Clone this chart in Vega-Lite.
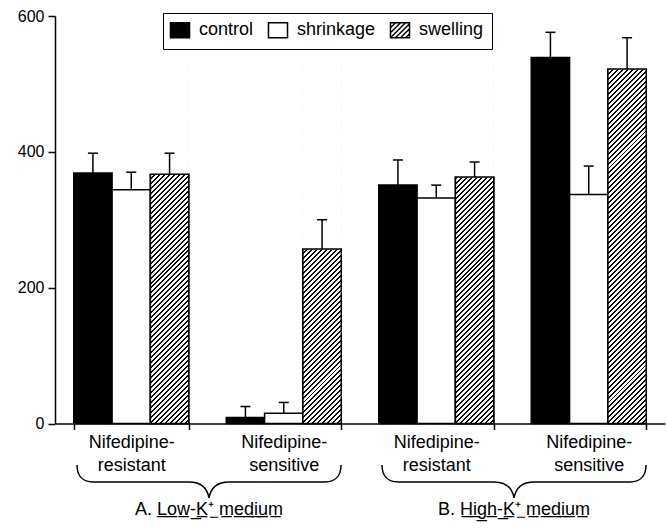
{
  "$schema": "https://vega.github.io/schema/vega-lite/v6.json",
  "width": 610,
  "height": 407.5,
  "autosize": {"type": "none"},
  "padding": {"left": 55, "top": 16, "right": 2, "bottom": 104.5},
  "config": {
    "font": "Liberation Sans",
    "view": {"stroke": null},
    "axis": {"grid": false, "gridOpacity": 0, "gridColor": "#fff", "gridWidth": 0},
    "axisY": {
      "domainColor": "#000",
      "domainWidth": 1.5,
      "tickColor": "#000",
      "tickWidth": 1.5,
      "tickSize": 7,
      "labelFontSize": 16,
      "labelColor": "#000",
      "labelPadding": 4
    }
  },
  "datasets": {
    "bars": [
      {"group": "A resistant", "condition": "control", "value": 369, "upper": 398},
      {"group": "A resistant", "condition": "shrinkage", "value": 344, "upper": 370},
      {"group": "A resistant", "condition": "swelling", "value": 367, "upper": 398},
      {"group": "A sensitive", "condition": "control", "value": 9, "upper": 25},
      {"group": "A sensitive", "condition": "shrinkage", "value": 15, "upper": 31},
      {"group": "A sensitive", "condition": "swelling", "value": 257, "upper": 300},
      {"group": "B resistant", "condition": "control", "value": 351, "upper": 388},
      {"group": "B resistant", "condition": "shrinkage", "value": 332, "upper": 351},
      {"group": "B resistant", "condition": "swelling", "value": 363, "upper": 385},
      {"group": "B sensitive", "condition": "control", "value": 539, "upper": 576},
      {"group": "B sensitive", "condition": "shrinkage", "value": 337, "upper": 379},
      {"group": "B sensitive", "condition": "swelling", "value": 522, "upper": 568}
    ],
    "media": [
      {"group": "A sensitive", "label": "A. L̲o̲w̲-̲K̲⁺̲ m̲e̲d̲i̲u̲m̲"},
      {"group": "B sensitive", "label": "B. H̲i̲g̲h̲-̲K̲⁺̲ m̲e̲d̲i̲u̲m̲"}
    ]
  },
  "encoding": {
    "x": {
      "field": "group",
      "type": "nominal",
      "scale": {"paddingInner": 0.246, "paddingOuter": 0.123},
      "axis": {
        "title": null,
        "grid": false,
        "gridOpacity": 0,
        "gridColor": "#fff",
        "domainColor": "#000",
        "domainWidth": 1.5,
        "tickColor": "#000",
        "tickWidth": 1.5,
        "tickSize": 6,
        "tickBand": "extent",
        "labelAngle": 0,
        "labelFontSize": 18,
        "labelColor": "#000",
        "labelPadding": 4,
        "labelLineHeight": 23,
        "labelExpr": "datum.label && indexof(datum.label, 'resistant') >= 0 ? ['Nifedipine-', 'resistant'] : (datum.label && indexof(datum.label, 'sensitive') >= 0 ? ['Nifedipine-', 'sensitive'] : '')"
      }
    }
  },
  "layer": [
    {
      "data": {"name": "bars"},
      "mark": {"type": "bar", "stroke": "#000", "strokeWidth": 1.5},
      "encoding": {
        "xOffset": {"field": "condition", "type": "nominal", "scale": {"paddingInner": 0, "paddingOuter": 0}},
        "y": {"field": "value", "type": "quantitative", "title": null, "scale": {"domain": [0, 600], "nice": false}, "axis": {"values": [0, 200, 400, 600]}},
        "fill": {"condition": {"test": "datum.condition === 'control'", "value": "#000"}, "value": "#fff"}
      }
    },
    {
      "data": {"name": "bars"},
      "transform": [{"filter": "datum.condition === 'swelling'"}],
      "mark": {
        "type": "bar",
        "strokeWidth": 0,
        "fill": {
          "gradient": "linear", "x1": 0, "y1": 0, "x2": 0.1165, "y2": 1.0941,
          "stops": [
            {"offset": 0, "color": "#000"}, {"offset": 0.005, "color": "#000"}, {"offset": 0.005, "color": "#fff"}, {"offset": 0.0125, "color": "#fff"},
            {"offset": 0.0125, "color": "#000"}, {"offset": 0.0175, "color": "#000"}, {"offset": 0.0175, "color": "#fff"}, {"offset": 0.025, "color": "#fff"},
            {"offset": 0.025, "color": "#000"}, {"offset": 0.03, "color": "#000"}, {"offset": 0.03, "color": "#fff"}, {"offset": 0.0375, "color": "#fff"},
            {"offset": 0.0375, "color": "#000"}, {"offset": 0.0425, "color": "#000"}, {"offset": 0.0425, "color": "#fff"}, {"offset": 0.05, "color": "#fff"},
            {"offset": 0.05, "color": "#000"}, {"offset": 0.055, "color": "#000"}, {"offset": 0.055, "color": "#fff"}, {"offset": 0.0625, "color": "#fff"},
            {"offset": 0.0625, "color": "#000"}, {"offset": 0.0675, "color": "#000"}, {"offset": 0.0675, "color": "#fff"}, {"offset": 0.075, "color": "#fff"},
            {"offset": 0.075, "color": "#000"}, {"offset": 0.08, "color": "#000"}, {"offset": 0.08, "color": "#fff"}, {"offset": 0.0875, "color": "#fff"},
            {"offset": 0.0875, "color": "#000"}, {"offset": 0.0925, "color": "#000"}, {"offset": 0.0925, "color": "#fff"}, {"offset": 0.1, "color": "#fff"},
            {"offset": 0.1, "color": "#000"}, {"offset": 0.105, "color": "#000"}, {"offset": 0.105, "color": "#fff"}, {"offset": 0.1125, "color": "#fff"},
            {"offset": 0.1125, "color": "#000"}, {"offset": 0.1175, "color": "#000"}, {"offset": 0.1175, "color": "#fff"}, {"offset": 0.125, "color": "#fff"},
            {"offset": 0.125, "color": "#000"}, {"offset": 0.13, "color": "#000"}, {"offset": 0.13, "color": "#fff"}, {"offset": 0.1375, "color": "#fff"},
            {"offset": 0.1375, "color": "#000"}, {"offset": 0.1425, "color": "#000"}, {"offset": 0.1425, "color": "#fff"}, {"offset": 0.15, "color": "#fff"},
            {"offset": 0.15, "color": "#000"}, {"offset": 0.155, "color": "#000"}, {"offset": 0.155, "color": "#fff"}, {"offset": 0.1625, "color": "#fff"},
            {"offset": 0.1625, "color": "#000"}, {"offset": 0.1675, "color": "#000"}, {"offset": 0.1675, "color": "#fff"}, {"offset": 0.175, "color": "#fff"},
            {"offset": 0.175, "color": "#000"}, {"offset": 0.18, "color": "#000"}, {"offset": 0.18, "color": "#fff"}, {"offset": 0.1875, "color": "#fff"},
            {"offset": 0.1875, "color": "#000"}, {"offset": 0.1925, "color": "#000"}, {"offset": 0.1925, "color": "#fff"}, {"offset": 0.2, "color": "#fff"},
            {"offset": 0.2, "color": "#000"}, {"offset": 0.205, "color": "#000"}, {"offset": 0.205, "color": "#fff"}, {"offset": 0.2125, "color": "#fff"},
            {"offset": 0.2125, "color": "#000"}, {"offset": 0.2175, "color": "#000"}, {"offset": 0.2175, "color": "#fff"}, {"offset": 0.225, "color": "#fff"},
            {"offset": 0.225, "color": "#000"}, {"offset": 0.23, "color": "#000"}, {"offset": 0.23, "color": "#fff"}, {"offset": 0.2375, "color": "#fff"},
            {"offset": 0.2375, "color": "#000"}, {"offset": 0.2425, "color": "#000"}, {"offset": 0.2425, "color": "#fff"}, {"offset": 0.25, "color": "#fff"},
            {"offset": 0.25, "color": "#000"}, {"offset": 0.255, "color": "#000"}, {"offset": 0.255, "color": "#fff"}, {"offset": 0.2625, "color": "#fff"},
            {"offset": 0.2625, "color": "#000"}, {"offset": 0.2675, "color": "#000"}, {"offset": 0.2675, "color": "#fff"}, {"offset": 0.275, "color": "#fff"},
            {"offset": 0.275, "color": "#000"}, {"offset": 0.28, "color": "#000"}, {"offset": 0.28, "color": "#fff"}, {"offset": 0.2875, "color": "#fff"},
            {"offset": 0.2875, "color": "#000"}, {"offset": 0.2925, "color": "#000"}, {"offset": 0.2925, "color": "#fff"}, {"offset": 0.3, "color": "#fff"},
            {"offset": 0.3, "color": "#000"}, {"offset": 0.305, "color": "#000"}, {"offset": 0.305, "color": "#fff"}, {"offset": 0.3125, "color": "#fff"},
            {"offset": 0.3125, "color": "#000"}, {"offset": 0.3175, "color": "#000"}, {"offset": 0.3175, "color": "#fff"}, {"offset": 0.325, "color": "#fff"},
            {"offset": 0.325, "color": "#000"}, {"offset": 0.33, "color": "#000"}, {"offset": 0.33, "color": "#fff"}, {"offset": 0.3375, "color": "#fff"},
            {"offset": 0.3375, "color": "#000"}, {"offset": 0.3425, "color": "#000"}, {"offset": 0.3425, "color": "#fff"}, {"offset": 0.35, "color": "#fff"},
            {"offset": 0.35, "color": "#000"}, {"offset": 0.355, "color": "#000"}, {"offset": 0.355, "color": "#fff"}, {"offset": 0.3625, "color": "#fff"},
            {"offset": 0.3625, "color": "#000"}, {"offset": 0.3675, "color": "#000"}, {"offset": 0.3675, "color": "#fff"}, {"offset": 0.375, "color": "#fff"},
            {"offset": 0.375, "color": "#000"}, {"offset": 0.38, "color": "#000"}, {"offset": 0.38, "color": "#fff"}, {"offset": 0.3875, "color": "#fff"},
            {"offset": 0.3875, "color": "#000"}, {"offset": 0.3925, "color": "#000"}, {"offset": 0.3925, "color": "#fff"}, {"offset": 0.4, "color": "#fff"},
            {"offset": 0.4, "color": "#000"}, {"offset": 0.405, "color": "#000"}, {"offset": 0.405, "color": "#fff"}, {"offset": 0.4125, "color": "#fff"},
            {"offset": 0.4125, "color": "#000"}, {"offset": 0.4175, "color": "#000"}, {"offset": 0.4175, "color": "#fff"}, {"offset": 0.425, "color": "#fff"},
            {"offset": 0.425, "color": "#000"}, {"offset": 0.43, "color": "#000"}, {"offset": 0.43, "color": "#fff"}, {"offset": 0.4375, "color": "#fff"},
            {"offset": 0.4375, "color": "#000"}, {"offset": 0.4425, "color": "#000"}, {"offset": 0.4425, "color": "#fff"}, {"offset": 0.45, "color": "#fff"},
            {"offset": 0.45, "color": "#000"}, {"offset": 0.455, "color": "#000"}, {"offset": 0.455, "color": "#fff"}, {"offset": 0.4625, "color": "#fff"},
            {"offset": 0.4625, "color": "#000"}, {"offset": 0.4675, "color": "#000"}, {"offset": 0.4675, "color": "#fff"}, {"offset": 0.475, "color": "#fff"},
            {"offset": 0.475, "color": "#000"}, {"offset": 0.48, "color": "#000"}, {"offset": 0.48, "color": "#fff"}, {"offset": 0.4875, "color": "#fff"},
            {"offset": 0.4875, "color": "#000"}, {"offset": 0.4925, "color": "#000"}, {"offset": 0.4925, "color": "#fff"}, {"offset": 0.5, "color": "#fff"},
            {"offset": 0.5, "color": "#000"}, {"offset": 0.505, "color": "#000"}, {"offset": 0.505, "color": "#fff"}, {"offset": 0.5125, "color": "#fff"},
            {"offset": 0.5125, "color": "#000"}, {"offset": 0.5175, "color": "#000"}, {"offset": 0.5175, "color": "#fff"}, {"offset": 0.525, "color": "#fff"},
            {"offset": 0.525, "color": "#000"}, {"offset": 0.53, "color": "#000"}, {"offset": 0.53, "color": "#fff"}, {"offset": 0.5375, "color": "#fff"},
            {"offset": 0.5375, "color": "#000"}, {"offset": 0.5425, "color": "#000"}, {"offset": 0.5425, "color": "#fff"}, {"offset": 0.55, "color": "#fff"},
            {"offset": 0.55, "color": "#000"}, {"offset": 0.555, "color": "#000"}, {"offset": 0.555, "color": "#fff"}, {"offset": 0.5625, "color": "#fff"},
            {"offset": 0.5625, "color": "#000"}, {"offset": 0.5675, "color": "#000"}, {"offset": 0.5675, "color": "#fff"}, {"offset": 0.575, "color": "#fff"},
            {"offset": 0.575, "color": "#000"}, {"offset": 0.58, "color": "#000"}, {"offset": 0.58, "color": "#fff"}, {"offset": 0.5875, "color": "#fff"},
            {"offset": 0.5875, "color": "#000"}, {"offset": 0.5925, "color": "#000"}, {"offset": 0.5925, "color": "#fff"}, {"offset": 0.6, "color": "#fff"},
            {"offset": 0.6, "color": "#000"}, {"offset": 0.605, "color": "#000"}, {"offset": 0.605, "color": "#fff"}, {"offset": 0.6125, "color": "#fff"},
            {"offset": 0.6125, "color": "#000"}, {"offset": 0.6175, "color": "#000"}, {"offset": 0.6175, "color": "#fff"}, {"offset": 0.625, "color": "#fff"},
            {"offset": 0.625, "color": "#000"}, {"offset": 0.63, "color": "#000"}, {"offset": 0.63, "color": "#fff"}, {"offset": 0.6375, "color": "#fff"},
            {"offset": 0.6375, "color": "#000"}, {"offset": 0.6425, "color": "#000"}, {"offset": 0.6425, "color": "#fff"}, {"offset": 0.65, "color": "#fff"},
            {"offset": 0.65, "color": "#000"}, {"offset": 0.655, "color": "#000"}, {"offset": 0.655, "color": "#fff"}, {"offset": 0.6625, "color": "#fff"},
            {"offset": 0.6625, "color": "#000"}, {"offset": 0.6675, "color": "#000"}, {"offset": 0.6675, "color": "#fff"}, {"offset": 0.675, "color": "#fff"},
            {"offset": 0.675, "color": "#000"}, {"offset": 0.68, "color": "#000"}, {"offset": 0.68, "color": "#fff"}, {"offset": 0.6875, "color": "#fff"},
            {"offset": 0.6875, "color": "#000"}, {"offset": 0.6925, "color": "#000"}, {"offset": 0.6925, "color": "#fff"}, {"offset": 0.7, "color": "#fff"},
            {"offset": 0.7, "color": "#000"}, {"offset": 0.705, "color": "#000"}, {"offset": 0.705, "color": "#fff"}, {"offset": 0.7125, "color": "#fff"},
            {"offset": 0.7125, "color": "#000"}, {"offset": 0.7175, "color": "#000"}, {"offset": 0.7175, "color": "#fff"}, {"offset": 0.725, "color": "#fff"},
            {"offset": 0.725, "color": "#000"}, {"offset": 0.73, "color": "#000"}, {"offset": 0.73, "color": "#fff"}, {"offset": 0.7375, "color": "#fff"},
            {"offset": 0.7375, "color": "#000"}, {"offset": 0.7425, "color": "#000"}, {"offset": 0.7425, "color": "#fff"}, {"offset": 0.75, "color": "#fff"},
            {"offset": 0.75, "color": "#000"}, {"offset": 0.755, "color": "#000"}, {"offset": 0.755, "color": "#fff"}, {"offset": 0.7625, "color": "#fff"},
            {"offset": 0.7625, "color": "#000"}, {"offset": 0.7675, "color": "#000"}, {"offset": 0.7675, "color": "#fff"}, {"offset": 0.775, "color": "#fff"},
            {"offset": 0.775, "color": "#000"}, {"offset": 0.78, "color": "#000"}, {"offset": 0.78, "color": "#fff"}, {"offset": 0.7875, "color": "#fff"},
            {"offset": 0.7875, "color": "#000"}, {"offset": 0.7925, "color": "#000"}, {"offset": 0.7925, "color": "#fff"}, {"offset": 0.8, "color": "#fff"},
            {"offset": 0.8, "color": "#000"}, {"offset": 0.805, "color": "#000"}, {"offset": 0.805, "color": "#fff"}, {"offset": 0.8125, "color": "#fff"},
            {"offset": 0.8125, "color": "#000"}, {"offset": 0.8175, "color": "#000"}, {"offset": 0.8175, "color": "#fff"}, {"offset": 0.825, "color": "#fff"},
            {"offset": 0.825, "color": "#000"}, {"offset": 0.83, "color": "#000"}, {"offset": 0.83, "color": "#fff"}, {"offset": 0.8375, "color": "#fff"},
            {"offset": 0.8375, "color": "#000"}, {"offset": 0.8425, "color": "#000"}, {"offset": 0.8425, "color": "#fff"}, {"offset": 0.85, "color": "#fff"},
            {"offset": 0.85, "color": "#000"}, {"offset": 0.855, "color": "#000"}, {"offset": 0.855, "color": "#fff"}, {"offset": 0.8625, "color": "#fff"},
            {"offset": 0.8625, "color": "#000"}, {"offset": 0.8675, "color": "#000"}, {"offset": 0.8675, "color": "#fff"}, {"offset": 0.875, "color": "#fff"},
            {"offset": 0.875, "color": "#000"}, {"offset": 0.88, "color": "#000"}, {"offset": 0.88, "color": "#fff"}, {"offset": 0.8875, "color": "#fff"},
            {"offset": 0.8875, "color": "#000"}, {"offset": 0.8925, "color": "#000"}, {"offset": 0.8925, "color": "#fff"}, {"offset": 0.9, "color": "#fff"},
            {"offset": 0.9, "color": "#000"}, {"offset": 0.905, "color": "#000"}, {"offset": 0.905, "color": "#fff"}, {"offset": 0.9125, "color": "#fff"},
            {"offset": 0.9125, "color": "#000"}, {"offset": 0.9175, "color": "#000"}, {"offset": 0.9175, "color": "#fff"}, {"offset": 0.925, "color": "#fff"},
            {"offset": 0.925, "color": "#000"}, {"offset": 0.93, "color": "#000"}, {"offset": 0.93, "color": "#fff"}, {"offset": 0.9375, "color": "#fff"},
            {"offset": 0.9375, "color": "#000"}, {"offset": 0.9425, "color": "#000"}, {"offset": 0.9425, "color": "#fff"}, {"offset": 0.95, "color": "#fff"},
            {"offset": 0.95, "color": "#000"}, {"offset": 0.955, "color": "#000"}, {"offset": 0.955, "color": "#fff"}, {"offset": 0.9625, "color": "#fff"},
            {"offset": 0.9625, "color": "#000"}, {"offset": 0.9675, "color": "#000"}, {"offset": 0.9675, "color": "#fff"}, {"offset": 0.975, "color": "#fff"},
            {"offset": 0.975, "color": "#000"}, {"offset": 0.98, "color": "#000"}, {"offset": 0.98, "color": "#fff"}, {"offset": 0.9875, "color": "#fff"},
            {"offset": 0.9875, "color": "#000"}, {"offset": 0.9925, "color": "#000"}, {"offset": 0.9925, "color": "#fff"}, {"offset": 1, "color": "#fff"}
          ]
        }
      },
      "encoding": {
        "xOffset": {"field": "condition", "type": "nominal", "scale": {"paddingInner": 0, "paddingOuter": 0}},
        "y": {"datum": 530, "type": "quantitative", "title": null, "scale": {"domain": [0, 600], "nice": false}, "axis": {"values": [0, 200, 400, 600]}},
        "y2": {"datum": 0}
      }
    },
    {
      "data": {"name": "bars"},
      "transform": [{"filter": "datum.condition === 'swelling'"}],
      "mark": {"type": "bar", "fill": "#fff", "stroke": "#fff", "strokeWidth": 1},
      "encoding": {
        "xOffset": {"field": "condition", "type": "nominal", "scale": {"paddingInner": 0, "paddingOuter": 0}},
        "y": {"field": "value", "type": "quantitative", "title": null, "scale": {"domain": [0, 600], "nice": false}, "axis": {"values": [0, 200, 400, 600]}},
        "y2": {"datum": 530}
      }
    },
    {
      "data": {"name": "bars"},
      "transform": [{"filter": "datum.condition === 'swelling'"}],
      "mark": {"type": "bar", "fillOpacity": 0, "stroke": "#000", "strokeWidth": 1.5},
      "encoding": {
        "xOffset": {"field": "condition", "type": "nominal", "scale": {"paddingInner": 0, "paddingOuter": 0}},
        "y": {"field": "value", "type": "quantitative", "title": null, "scale": {"domain": [0, 600], "nice": false}, "axis": {"values": [0, 200, 400, 600]}}
      }
    },
    {
      "data": {"name": "bars"},
      "mark": {"type": "rule", "stroke": "#000", "strokeWidth": 1.5},
      "encoding": {
        "xOffset": {"field": "condition", "type": "nominal", "scale": {"paddingInner": 0, "paddingOuter": 0}},
        "y": {"field": "value", "type": "quantitative", "title": null, "scale": {"domain": [0, 600], "nice": false}, "axis": {"values": [0, 200, 400, 600]}},
        "y2": {"field": "upper"}
      }
    },
    {
      "data": {"name": "bars"},
      "mark": {"type": "tick", "size": 10, "thickness": 1.5, "color": "#000", "opacity": 1},
      "encoding": {
        "xOffset": {"field": "condition", "type": "nominal", "scale": {"paddingInner": 0, "paddingOuter": 0}},
        "y": {"field": "upper", "type": "quantitative", "title": null, "scale": {"domain": [0, 600], "nice": false}, "axis": {"values": [0, 200, 400, 600]}}
      }
    },
    {
      "data": {"name": "bars"},
      "mark": {"type": "point", "filled": true, "opacity": 0, "size": 225, "strokeWidth": 1.5},
      "encoding": {
        "xOffset": {"field": "condition", "type": "nominal", "scale": {"paddingInner": 0, "paddingOuter": 0}},
        "y": {"field": "value", "type": "quantitative", "title": null, "scale": {"domain": [0, 600], "nice": false}, "axis": {"values": [0, 200, 400, 600]}},
        "fill": {
          "field": "condition",
          "type": "nominal",
          "title": null,
          "scale": {"range": ["#000", "#fff", "#fff"]},
          "legend": {
            "orient": "none",
            "legendX": 108,
            "legendY": -3,
            "direction": "horizontal",
            "strokeColor": "#000",
            "padding": 8,
            "symbolSize": 225,
            "symbolStrokeColor": "#000",
            "symbolStrokeWidth": 1.5,
            "symbolOpacity": 1,
            "labelFontSize": 18,
            "labelColor": "#000",
            "labelOffset": 10,
            "columnPadding": 11
          }
        },
        "stroke": {
          "field": "condition",
          "type": "nominal",
          "title": null,
          "scale": {"range": ["#000", "#000", "#000"]},
          "legend": {
            "orient": "none",
            "legendX": 108,
            "legendY": -3,
            "direction": "horizontal",
            "strokeColor": "#000",
            "padding": 8,
            "symbolSize": 225,
            "symbolStrokeColor": "#000",
            "symbolStrokeWidth": 1.5,
            "symbolOpacity": 1,
            "labelFontSize": 18,
            "labelColor": "#000",
            "labelOffset": 10,
            "columnPadding": 11
          }
        },
        "shape": {
          "field": "condition",
          "type": "nominal",
          "title": null,
          "scale": {
            "range": [
              "M-1.27,-1H1.27V1H-1.27Z",
              "M-1.27,-1H1.27V1H-1.27Z",
              "M-1.27,-1H1.27V1H-1.27ZM-1.27,-0.33L-0.6,-1M-1.27,0.34L0.07,-1M-1.27,1L0.73,-1M-0.6,1L1.27,-0.87M0.07,1L1.27,-0.2M0.73,1L1.27,0.46"
            ]
          },
          "legend": {
            "orient": "none",
            "legendX": 108,
            "legendY": -3,
            "direction": "horizontal",
            "strokeColor": "#000",
            "padding": 8,
            "symbolSize": 225,
            "symbolStrokeColor": "#000",
            "symbolStrokeWidth": 1.5,
            "symbolOpacity": 1,
            "labelFontSize": 18,
            "labelColor": "#000",
            "labelOffset": 10,
            "columnPadding": 11
          }
        }
      }
    },
    {
      "data": {"name": "media"},
      "mark": {
        "type": "point",
        "shape": "M-132,-17C-132,-6 -126,0 -116,0L-20,0C-9,0 -2,5 0,16C2,5 9,0 20,0L116,0C126,0 132,-6 132,-17",
        "size": 4,
        "filled": false,
        "stroke": "#000",
        "strokeWidth": 1.5,
        "opacity": 1
      },
      "encoding": {
        "x": {"field": "group", "type": "nominal", "bandPosition": -0.15},
        "y": {"datum": -86, "type": "quantitative", "title": null, "scale": {"domain": [0, 600], "nice": false}, "axis": {"values": [0, 200, 400, 600]}}
      }
    },
    {
      "data": {"name": "media"},
      "mark": {"type": "text", "fontSize": 18, "baseline": "alphabetic", "align": "center", "color": "#000"},
      "encoding": {
        "x": {"field": "group", "type": "nominal", "bandPosition": -0.15},
        "y": {"datum": -134, "type": "quantitative", "title": null, "scale": {"domain": [0, 600], "nice": false}, "axis": {"values": [0, 200, 400, 600]}},
        "text": {"field": "label"}
      }
    }
  ]
}
